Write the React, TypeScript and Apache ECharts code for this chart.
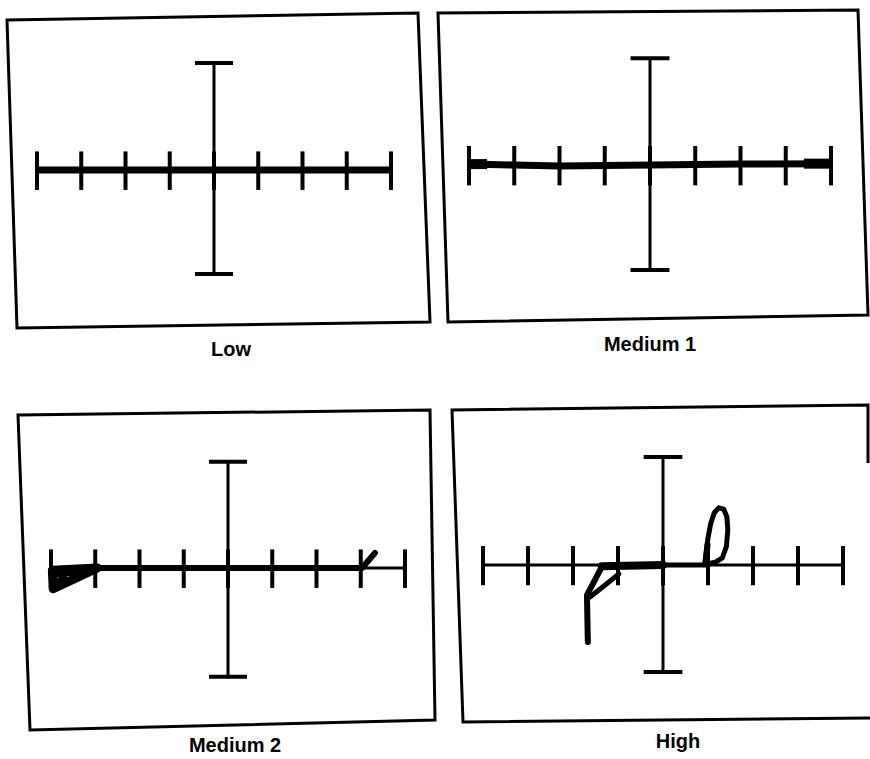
import React, { useEffect, useRef } from "react";
import * as echarts from "echarts";

// ---- data (in graticule divisions, origin at crosshair centre) ----
const PANEL_NAMES = ["Low", "Medium 1", "Medium 2", "High"];
const TICK_VALUES = [-4, -3, -2, -1, 0, 1, 2, 3, 4];
const TICK_UP = 0.42;
const TICK_DOWN = -0.45;
const VERT_TOP = [2.42, 2.36, 2.4, 2.4];
const VERT_BOTTOM = [-2.35, -2.32, -2.46, -2.38];
const CAP_HALF = 0.43;

type Stroke = { pts: number[][]; w: number; cap?: string };

const lowTrace: Stroke[] = [{ pts: [[-4, 0], [4, 0]], w: 7, cap: "butt" }];

const medium1Trace: Stroke[] = [
  { pts: [[-4, 0.02], [-3, 0], [-2, -0.02], [0, 0], [2, 0.02], [4, 0.03]], w: 7, cap: "butt" },
  { pts: [[-4, 0.02], [-3.6, 0.02]], w: 10, cap: "butt" },
  { pts: [[3.4, 0.03], [4, 0.03]], w: 10, cap: "butt" },
];

const medium2Trace: Stroke[] = [
  { pts: [[-2.95, 0], [3.03, 0], [3.32, 0.34]], w: 6 },
  { pts: [[-2.95, 0], [-3.95, -0.47], [-3.97, -0.05], [-2.95, 0]], w: 9 },
  { pts: [[-3.95, -0.12], [-3.05, -0.04]], w: 9 },
  { pts: [[-3.95, -0.42], [-3.72, -0.26]], w: 9 },
  { pts: [[-3.45, -0.2], [-3.1, -0.08]], w: 7 },
];

const highTrace: Stroke[] = [
  { pts: [[-1.36, -0.03], [0, 0]], w: 8 },
  { pts: [[0, 0], [1.0, 0]], w: 5 },
  { pts: [[-1.67, -1.71], [-1.69, -0.67], [-1.36, -0.04]], w: 6 },
  { pts: [[-1.62, -0.71], [-0.98, -0.2]], w: 5 },
  {
    pts: [[0.93, 0.04], [0.96, 0.3], [1.0, 0.6], [1.06, 0.92], [1.14, 1.16], [1.24, 1.27], [1.35, 1.24], [1.42, 1.07], [1.44, 0.78], [1.41, 0.42], [1.32, 0.16], [1.16, 0.06], [1.0, 0.03]],
    w: 5,
  },
  { pts: [[0.95, 0.05], [0.99, 0.45]], w: 6 },
];

const TRACES = [lowTrace, medium1Trace, medium2Trace, highTrace];

// ---- layout (pixels) ----
const LAYOUT = [
  { L: 12, T: 17, R: 424, B: 325, cx: 214, cy: 170, div: 44.25, lx: 231, ly: 349 },
  { L: 443, T: 12, R: 863, B: 318, cx: 650, cy: 165, div: 45.25, lx: 650, ly: 344 },
  { L: 24, T: 412, R: 433, B: 725, cx: 228, cy: 568, div: 44.25, lx: 235, ly: 745 },
  { L: 457, T: 408, R: 868, B: 720, cx: 663, cy: 565, div: 45, lx: 678, ly: 741 },
];
// scanned frames (slightly rotated), pixel corners
const FRAMES: { pts: number[][]; closed: boolean }[] = [
  { pts: [[7, 20], [418, 13], [430, 322], [17, 328]], closed: true },
  { pts: [[438, 13], [858, 10], [868, 315], [448, 322]], closed: true },
  { pts: [[18, 415], [430, 410], [435, 720], [30, 730]], closed: true },
  { pts: [[868, 463], [868, 405], [452, 410], [463, 722], [870, 718]], closed: false },
];

function buildOption() {
  const grid: any[] = [];
  const xAxis: any[] = [];
  const yAxis: any[] = [];
  const series: any[] = [];
  const graphic: any[] = [];

  LAYOUT.forEach((p, i) => {
    grid.push({
      left: p.L,
      top: p.T,
      width: p.R - p.L,
      height: p.B - p.T,
      show: false,
    });
    xAxis.push({
      gridIndex: i,
      type: "value",
      min: (p.L - p.cx) / p.div,
      max: (p.R - p.cx) / p.div,
      show: false,
    });
    yAxis.push({
      gridIndex: i,
      type: "value",
      min: (p.cy - p.B) / p.div,
      max: (p.cy - p.T) / p.div,
      show: false,
    });

    const top = VERT_TOP[i];
    const bot = VERT_BOTTOM[i];
    const cross: any[] = [
      { coords: [[TICK_VALUES[0], 0], [TICK_VALUES[TICK_VALUES.length - 1], 0]], lineStyle: { width: 3 } },
      { coords: [[0, bot], [0, top]], lineStyle: { width: 3 } },
      { coords: [[-CAP_HALF, top], [CAP_HALF, top]], lineStyle: { width: 4 } },
      { coords: [[-CAP_HALF, bot], [CAP_HALF, bot]], lineStyle: { width: 4 } },
      ...TICK_VALUES.map((t) => ({ coords: [[t, TICK_DOWN], [t, TICK_UP]], lineStyle: { width: 4 } })),
    ];
    series.push({
      type: "lines",
      coordinateSystem: "cartesian2d",
      xAxisIndex: i,
      yAxisIndex: i,
      polyline: true,
      silent: true,
      lineStyle: { color: "#000", opacity: 1, cap: "butt" },
      data: cross,
    });
    series.push({
      type: "lines",
      coordinateSystem: "cartesian2d",
      xAxisIndex: i,
      yAxisIndex: i,
      polyline: true,
      silent: true,
      lineStyle: { color: "#000", opacity: 1, cap: "round", join: "round" },
      data: TRACES[i].map((s) => ({
        coords: s.pts,
        lineStyle: { width: s.w, cap: s.cap || "round" },
      })),
    });

    const f = FRAMES[i];
    graphic.push({
      type: f.closed ? "polygon" : "polyline",
      shape: { points: f.pts },
      style: { fill: f.closed ? "none" : undefined, stroke: "#000", lineWidth: 3, lineJoin: "miter" },
      silent: true,
    });

    graphic.push({
      type: "text",
      x: p.lx,
      y: p.ly,
      style: {
        text: PANEL_NAMES[i],
        fill: "#000",
        font: "bold 20px 'Liberation Sans', Arial, sans-serif",
        textAlign: "center",
        textVerticalAlign: "middle",
      },
    });
  });

  return {
    animation: false,
    backgroundColor: "#fff",
    grid,
    xAxis,
    yAxis,
    series,
    graphic,
  };
}

export default function App() {
  const ref = useRef<HTMLDivElement>(null);
  useEffect(() => {
    document.body.style.margin = "0";
    const chart = echarts.init(ref.current!, undefined, { renderer: "svg" });
    chart.setOption(buildOption());
    return () => chart.dispose();
  }, []);
  return <div ref={ref} style={{ width: 870, height: 759, overflow: "hidden" }} />;
}
